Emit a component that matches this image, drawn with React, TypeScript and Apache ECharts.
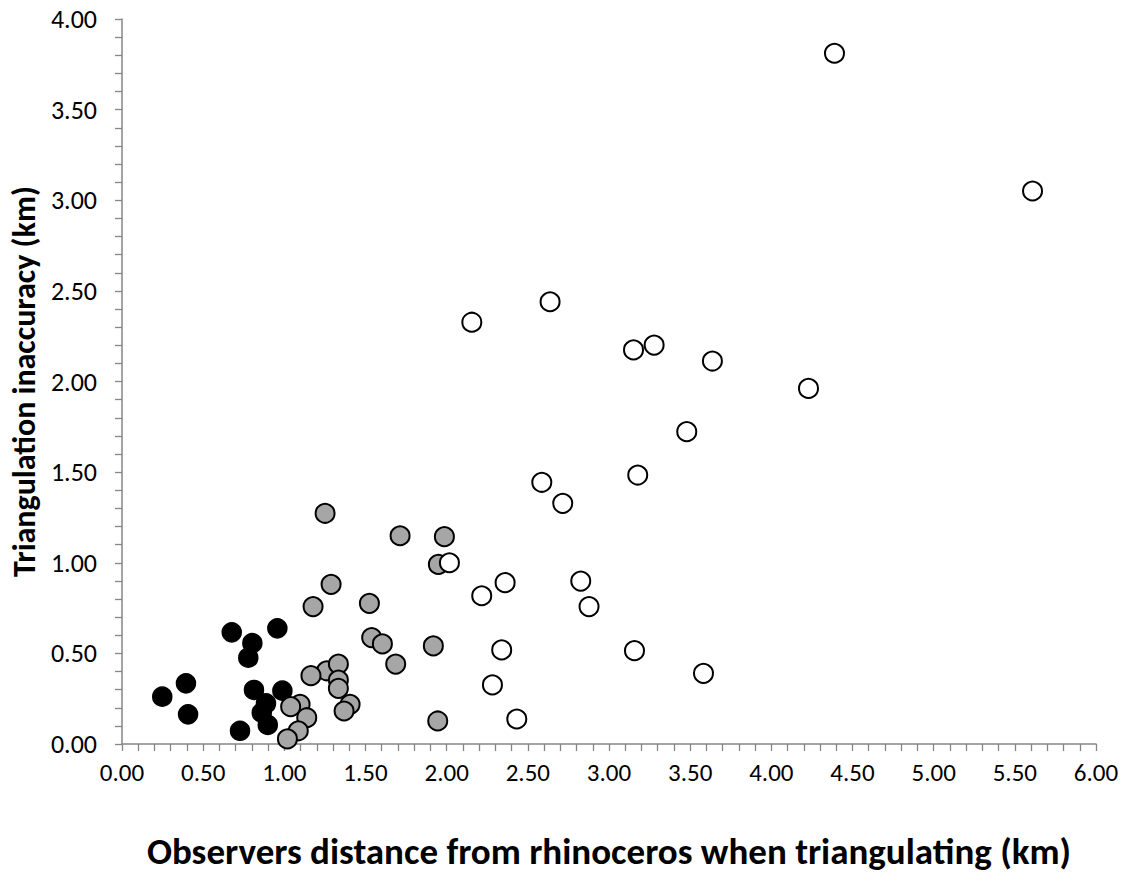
import React, { useEffect, useRef } from "react";
import * as echarts from "echarts";

const blackX = [0.676, 0.803, 0.778, 0.957, 0.394, 0.248, 0.407, 0.813, 0.988, 0.887, 0.861, 0.898, 0.727];
const blackY = [0.616, 0.556, 0.476, 0.638, 0.335, 0.261, 0.164, 0.298, 0.294, 0.224, 0.173, 0.105, 0.073];

const greyX = [1.288, 1.177, 1.524, 1.538, 1.604, 1.918, 1.686, 1.261, 1.333, 1.333, 1.333, 1.164, 1.405, 1.368, 1.097, 1.039, 1.138, 1.086, 1.019, 1.945, 1.949, 1.251, 1.713, 1.986];
const greyY = [0.881, 0.758, 0.776, 0.587, 0.552, 0.541, 0.441, 0.404, 0.441, 0.353, 0.307, 0.377, 0.219, 0.182, 0.219, 0.206, 0.145, 0.073, 0.028, 0.127, 0.991, 1.273, 1.149, 1.144];

const whiteX = [2.017, 2.36, 2.216, 2.826, 2.877, 2.339, 2.282, 2.432, 2.155, 2.637, 3.151, 3.278, 3.637, 3.479, 2.586, 3.177, 2.715, 4.389, 5.609, 4.229, 3.157, 3.582];
const whiteY = [1.0, 0.89, 0.818, 0.899, 0.758, 0.519, 0.326, 0.138, 2.327, 2.44, 2.174, 2.201, 2.113, 1.723, 1.444, 1.484, 1.328, 3.811, 3.051, 1.962, 0.515, 0.39];

const xTitle = "Observers distance from rhinoceros when triangulating (km)";
const yTitle = "Triangulation inaccuracy (km)";

const FONT = 'Carlito, Calibri, Lato, "Open Sans", "Noto Sans", sans-serif';

function pairs(xs: number[], ys: number[]) {
  return xs.map((x, i) => [x, ys[i]]);
}

export default function App() {
  const ref = useRef<HTMLDivElement>(null);
  useEffect(() => {
    if (!ref.current) return;
    const chart = echarts.init(ref.current, undefined, { renderer: "svg" });
    const axisCommon = {
      type: "value" as const,
      min: 0,
      interval: 0.5,
      axisLine: { show: true, lineStyle: { color: "#868686", width: 1.5 } },
      axisTick: { show: true, length: 7, inside: false, lineStyle: { color: "#868686", width: 1.3 } },
      minorTick: { show: true, splitNumber: 5, length: 7, lineStyle: { color: "#868686", width: 1.3 } },
      splitLine: { show: false },
      nameLocation: "middle" as const,
    };
    const labelCommon = {
      color: "#000",
      fontFamily: FONT,
      formatter: (v: number) => v.toFixed(2),
    };
    const seriesCommon = {
      type: "scatter" as const,
      symbol: "circle",
      symbolSize: 19,
    };
    chart.setOption({
      animation: false,
      backgroundColor: "#fff",
      grid: { left: 122, right: 35, top: 19, bottom: 152, containLabel: false },
      xAxis: {
        ...axisCommon,
        max: 6,
        name: xTitle,
        nameGap: 89,
        nameTextStyle: { color: "#000", fontSize: 37, fontWeight: "bold", fontFamily: FONT },
        axisLabel: { ...labelCommon, fontSize: 25, margin: 16 },
      },
      yAxis: {
        ...axisCommon,
        max: 4,
        name: yTitle,
        nameGap: 78,
        nameTextStyle: { color: "#000", fontSize: 32, fontWeight: "bold", fontFamily: FONT },
        axisLabel: { ...labelCommon, fontSize: 26, margin: 25 },
      },
      series: [
        { ...seriesCommon, name: "near", data: pairs(blackX, blackY), itemStyle: { color: "#000", borderColor: "#000", borderWidth: 1.5, opacity: 1 } },
        { ...seriesCommon, name: "mid", data: pairs(greyX, greyY), itemStyle: { color: "#a6a6a6", borderColor: "#000", borderWidth: 2, opacity: 1 } },
        { ...seriesCommon, name: "far", data: pairs(whiteX, whiteY), itemStyle: { color: "#fff", borderColor: "#000", borderWidth: 2, opacity: 1 } },
      ],
    });
    return () => chart.dispose();
  }, []);
  return <div ref={ref} style={{ width: 1131, height: 896, position: "absolute", left: 0, top: 0 }} />;
}
